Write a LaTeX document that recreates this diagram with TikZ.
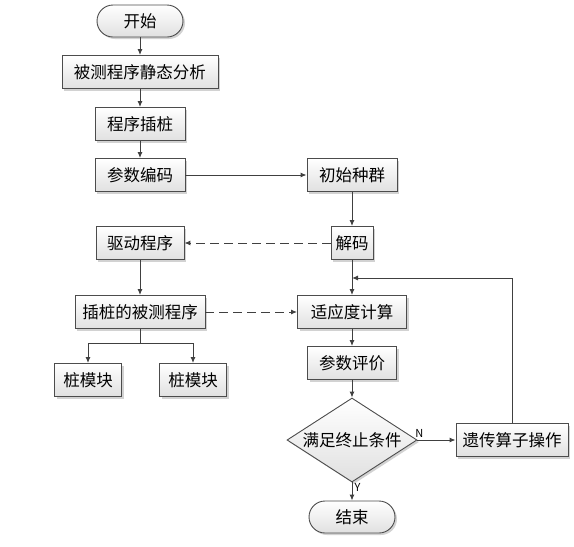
\documentclass[tikz,border=0pt]{standalone}
\usepackage{fontspec}
\setmainfont{Noto Sans CJK SC}
\usetikzlibrary{positioning,shapes.geometric,shadows,arrows.meta}
\begin{document}
\begin{tikzpicture}[x=1pt,y=-1pt,font=\fontsize{16.5}{19}\selectfont]
			\tikzstyle{box}=[draw=black!70, line width=0.9pt, top color=white, bottom color=black!12, minimum height=33pt, inner sep=2pt, drop shadow={shadow xshift=2pt, shadow yshift=-2pt, fill=black!35}]
			\tikzstyle{term}=[box, rounded corners=16pt, minimum width=86pt, minimum height=32pt]
			\tikzstyle{cond}=[box, diamond, aspect=1.55, minimum width=130pt, minimum height=84pt, inner sep=0pt]
			\tikzstyle{line}=[draw=black!75, line width=1pt, -{Latex[length=6pt,width=5pt]}]
			\tikzstyle{dline}=[line, dash pattern=on 9pt off 5pt]
			\tikzstyle{tag}=[font=\fontsize{11}{13}\selectfont, inner sep=2pt]
			\useasboundingbox (0,0) rectangle (574,547);
			\node[term] (start) at (140,21) {开始};
			\node[box, minimum width=156pt] (analysis) at (140,72) {被测程序静态分析};
			\node[box, minimum width=90pt] (instr) at (140,124) {程序插桩};
			\node[box, minimum width=90pt] (encode) at (140,175) {参数编码};
			\node[box, minimum width=90pt] (init) at (352,175) {初始种群};
			\node[box, minimum width=42pt] (decode) at (352,243) {解码};
			\node[box, minimum width=88pt] (driver) at (140,243) {驱动程序};
			\node[box, minimum width=130pt] (instrprog) at (140,312) {插桩的被测程序};
			\node[box, minimum width=109pt] (fitness) at (352,312) {适应度计算};
			\node[box, minimum width=89pt] (evaluate) at (352,363) {参数评价};
			\node[box, minimum width=67pt] (stubA) at (88,380) {桩模块};
			\node[box, minimum width=67pt] (stubB) at (193,380) {桩模块};
			\node[cond] (stop) at (352,440) {满足终止条件};
			\node[box, minimum width=112pt] (genetic) at (512,440) {遗传算子操作};
			\node[term] (finish) at (352,517) {结束};
			\coordinate (split) at (140,343);
			\coordinate (join) at (352,278);
			\draw[line] (start) -- (analysis);
			\draw[line] (analysis) -- (instr);
			\draw[line] (instr) -- (encode);
			\draw[line] (encode) -- (init);
			\draw[line] (init) -- (decode);
			\draw[dline] (decode) -- (driver);
			\draw[line] (driver) -- (instrprog);
			\draw[dline] (instrprog) -- (fitness);
			\draw[line] (decode) -- (fitness);
			\draw[line] (fitness) -- (evaluate);
			\draw[line] (evaluate) -- (stop);
			\draw[line] (stop) -- node[tag, pos=0.25, right] {Y} (finish);
			\draw[line] (stop) -- node[tag, pos=0.05, above] {N} (genetic);
			\draw[line] (genetic.north) |- (join);
			\draw[draw=black!75, line width=1pt] (instrprog) -- (split);
			\draw[line] (split) -| (stubA);
			\draw[line] (split) -| (stubB);
		\end{tikzpicture}
\end{document}
